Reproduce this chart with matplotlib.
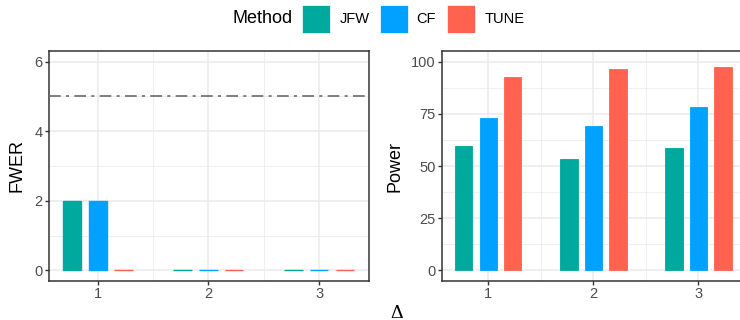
import matplotlib
matplotlib.use('Agg')
import matplotlib.pyplot as plt
from matplotlib.patches import Rectangle
import numpy as np

plt.rcParams['font.family'] = ['Liberation Sans', 'DejaVu Sans']

deltas = [1, 2, 3]
methods = ['JFW', 'CF', 'TUNE']
colors = ['#00A99D', '#00A1FF', '#FF634F']

fwer = {
    'JFW': [2.0, 0.0, 0.0],
    'CF': [2.0, 0.0, 0.0],
    'TUNE': [0.0, 0.0, 0.0],
}
power = {
    'JFW': [59.5, 53.3, 58.6],
    'CF': [72.9, 69.4, 78.2],
    'TUNE': [92.6, 96.7, 97.6],
}
fwer_level = 5

W, H = 740, 320
fig = plt.figure(figsize=(W / 100, H / 100), dpi=100)


def frac(x0, y0, x1, y1):
    # pixel box (top-left origin) -> figure fraction rect
    return [x0 / W, 1 - y1 / H, (x1 - x0) / W, (y1 - y0) / H]


ax1 = fig.add_axes(frac(49.3, 51.3, 369, 280.7))
ax2 = fig.add_axes(frac(442.3, 51.3, 745.7, 280.7))

offsets = [-0.233, 0.0, 0.233]
bar_w = 0.166
grid_col = '#EBEBEB'


def style_axis(ax, yticks, yminor, ylim):
    ax.set_xlim(0.563, 3.449)
    ax.set_ylim(*ylim)
    ax.set_xticks(deltas)
    ax.set_xticks([1.5, 2.5], minor=True)
    ax.set_yticks(yticks)
    ax.set_yticks(yminor, minor=True)
    ax.grid(True, which='major', color=grid_col, lw=1.1)
    ax.grid(True, which='minor', color=grid_col, lw=0.55)
    ax.set_axisbelow(True)
    for s in ax.spines.values():
        s.set_color('#333333')
        s.set_linewidth(1.1)
    ax.tick_params(which='major', length=2.8, width=1.0, color='#333333',
                   labelsize=10.5, labelcolor='#4D4D4D', pad=2)
    ax.tick_params(which='minor', length=0)


x = np.array(deltas, dtype=float)
for i, m in enumerate(methods):
    ax1.bar(x + offsets[i], fwer[m], width=bar_w, color=colors[i],
            edgecolor=colors[i], linewidth=1.0, zorder=2)
    ax2.bar(x + offsets[i], power[m], width=bar_w, color=colors[i],
            edgecolor=colors[i], linewidth=0.6, zorder=2)

ax1.axhline(fwer_level, color='#6A6A6A', lw=1.2, dashes=(7, 3.2, 1.8, 3.2), zorder=3)

style_axis(ax1, [0, 2, 4, 6], [1, 3, 5], (-0.3, 6.3))
style_axis(ax2, [0, 25, 50, 75, 100], [12.5, 37.5, 62.5, 87.5], (-5, 105))

ax1.set_ylabel('FWER', fontsize=13, color='black')
ax2.set_ylabel('Power', fontsize=13, color='black')
for ax, xpx, left, right in [(ax1, 17, 49.3, 369), (ax2, 395, 442.3, 745.7)]:
    ax.yaxis.label.set_va('center')
    ax.yaxis.set_label_coords((xpx - left) / (right - left), (280.7 - 166) / (280.7 - 51.3))

fig.text(397 / W, 1 - 313 / H, 'Δ', ha='center', va='center', fontsize=14,
         family=['Liberation Serif', 'DejaVu Serif'])

# legend at top
ly = 1 - 18.7 / H
fig.text(232.3 / W, ly, 'Method', ha='left', va='center', fontsize=13)
key_x = [302.3, 380, 446.7]
lab_x = [339.3, 416.7, 484.3]
for i, m in enumerate(methods):
    fig.patches.append(Rectangle((key_x[i] / W, 1 - 32.7 / H), 28 / W, 28 / H,
                                 transform=fig.transFigure, facecolor=colors[i],
                                 edgecolor='white', lw=0.5))
    fig.text(lab_x[i] / W, ly, m, ha='left', va='center', fontsize=10.5)

fig.savefig('out.png', dpi=100)
